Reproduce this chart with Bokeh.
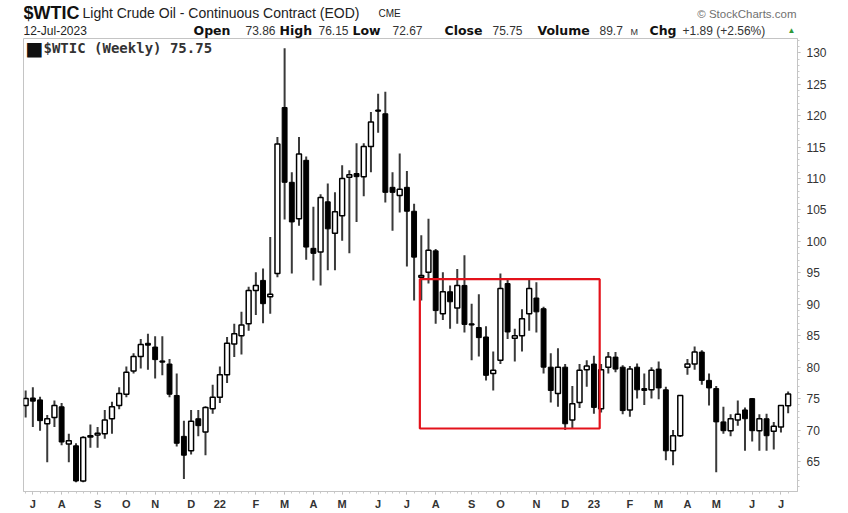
import pandas as pd
from bokeh.plotting import figure
from bokeh.layouts import column
from bokeh.models import (ColumnDataSource, Range1d, FixedTicker, SingleIntervalTicker,
                          BoxAnnotation, Label)
from bokeh.core.properties import value
from bokeh.embed import file_html
from bokeh.resources import INLINE

# ---------------- data (weekly OHLC, $WTIC, weeks starting 2021-06-28) ----------------
first_week = "2021-06-28"
opens = [73.9, 75.1, 74.8, 71.0, 72.0, 73.7, 67.8, 67.5, 61.9, 68.9,
         69.2, 69.4, 71.8, 73.9, 75.7, 79.4, 81.7, 83.8, 83.2, 81.0,
         80.5, 75.5, 69.0, 66.7, 71.8, 69.7, 73.4, 75.2, 78.8, 83.7,
         85.0, 86.9, 92.2, 93.8, 91.2, 94.9, 121.3, 109.4, 103.6, 112.9,
         98.9, 98.3, 106.3, 101.3, 104.1, 110.2, 110.8, 110.3, 115.1, 120.9,
         120.3, 108.6, 107.3, 108.6, 104.8, 94.3, 95.1, 98.5, 88.5, 92.0,
         89.4, 93.0, 86.9, 86.3, 84.8, 79.0, 81.1, 93.3, 84.6, 85.0,
         88.5, 91.0, 89.3, 80.0, 75.8, 80.0, 71.6, 74.4, 79.6, 80.5,
         73.4, 80.0, 81.6, 80.0, 73.2, 80.0, 76.6, 76.4, 79.7, 76.4,
         66.7, 69.1, 80.0, 80.5, 82.4, 77.9, 76.6, 71.3, 69.9, 71.6,
         73.2, 75.0, 69.9, 71.8, 69.8, 70.5, 73.86]
highs = [76.3, 76.8, 75.3, 72.4, 74.7, 74.3, 69.4, 67.9, 69.0, 70.9,
         70.5, 73.2, 74.5, 76.8, 80.1, 82.2, 84.5, 85.3, 84.9, 84.9,
         81.3, 79.0, 71.5, 73.2, 73.2, 73.8, 77.2, 80.1, 84.8, 86.9,
         88.8, 92.8, 95.1, 95.7, 100.7, 116.6, 130.7, 111.0, 116.6, 113.5,
         105.5, 107.5, 109.2, 107.8, 112.1, 111.3, 115.6, 115.6, 120.6, 123.5,
         123.8, 111.0, 114.0, 111.2, 106.0, 101.0, 103.6, 98.8, 95.1, 93.0,
         95.6, 97.8, 90.1, 91.6, 86.5, 82.5, 94.9, 93.9, 86.1, 89.2,
         93.9, 93.5, 89.6, 82.2, 83.0, 80.5, 77.0, 80.5, 81.1, 81.8,
         80.5, 82.4, 82.4, 80.3, 80.2, 80.6, 79.0, 80.0, 80.9, 76.9,
         70.0, 75.5, 81.3, 83.3, 82.7, 79.0, 77.0, 73.7, 72.5, 74.7,
         73.6, 75.1, 72.5, 72.6, 71.3, 73.9, 76.15]
lows = [72.0, 70.5, 69.9, 64.9, 70.5, 67.6, 64.9, 61.7, 61.7, 67.2,
        67.2, 68.6, 69.4, 73.3, 75.2, 79.0, 79.8, 79.6, 78.2, 78.7,
        75.2, 67.4, 62.2, 66.1, 69.0, 66.0, 72.6, 74.3, 77.5, 81.6,
        82.0, 85.8, 88.3, 87.0, 88.5, 94.3, 103.5, 94.9, 102.5, 97.1,
        93.8, 93.0, 95.4, 95.4, 100.1, 98.1, 103.1, 107.2, 111.0, 117.3,
        106.2, 101.7, 104.6, 96.0, 90.6, 90.6, 93.3, 86.9, 87.5, 86.1,
        86.9, 85.5, 81.1, 81.7, 77.9, 76.3, 80.5, 84.5, 80.9, 82.5,
        85.8, 85.5, 79.0, 74.4, 73.7, 70.0, 70.2, 73.5, 76.9, 72.6,
        72.8, 79.0, 79.2, 72.5, 72.1, 75.0, 74.0, 75.0, 74.9, 65.2,
        64.4, 68.9, 78.8, 79.6, 77.2, 73.9, 63.3, 69.4, 69.0, 70.7,
        66.7, 68.2, 66.7, 66.7, 66.9, 69.6, 72.67]
closes = [75.0, 74.6, 71.5, 71.8, 73.9, 68.1, 68.3, 61.9, 68.8, 69.1,
          69.5, 71.6, 73.7, 75.8, 79.2, 81.7, 83.6, 83.5, 81.2, 80.8,
          75.7, 67.9, 66.0, 71.4, 70.7, 73.6, 75.2, 78.8, 83.8, 85.3,
          86.7, 92.2, 93.0, 90.1, 91.6, 115.5, 109.4, 103.1, 113.9, 99.1,
          98.1, 107.0, 102.0, 104.7, 110.0, 110.6, 110.3, 115.1, 119.0, 120.7,
          107.8, 107.8, 108.3, 104.8, 97.5, 94.6, 98.6, 89.0, 92.0, 90.4,
          93.0, 86.8, 86.7, 84.7, 78.7, 79.5, 92.5, 85.6, 85.0, 87.7,
          92.5, 88.8, 80.0, 76.3, 80.0, 71.0, 74.2, 79.5, 80.2, 73.6,
          79.6, 81.6, 79.7, 73.1, 79.7, 76.4, 76.3, 79.5, 76.7, 66.7,
          69.1, 75.5, 80.5, 82.4, 77.9, 76.7, 71.3, 69.9, 71.8, 72.5,
          71.8, 69.9, 71.8, 69.1, 70.6, 73.9, 75.75]

tick_labels = ["J", "A", "S", "O", "N", "D", "22", "F", "M", "A", "M", "J", "J",
               "A", "S", "O", "N", "D", "23", "F", "M", "A", "M", "J", "J"]

# highlighted region (week index / price)
box_first_week = 54.8
box_last_week = 79.8
box_low = 70.25
box_high = 94.0

header_symbol = "$WTIC"
header_name = "Light Crude Oil - Continuous Contract (EOD)"
header_exchange = "CME"
header_date = "12-Jul-2023"
field_names = ["Open", "High", "Low", "Close", "Volume", "Chg"]
field_values = ["73.86", "76.15", "72.67", "75.75", "89.7", "+1.89 (+2.56%)"]
volume_unit = "M"
inner_label = "$WTIC (Weekly) 75.75"
credit = "\u00a9 StockCharts.com"

# ---------------- layout constants ----------------
W = 848
HEAD_H = 38
LEFT = 23
RIGHT_BORDER = 51
FRAME_RIGHT = W - RIGHT_BORDER

# ---------------- header strip (pixel coordinates) ----------------
head = figure(width=W, height=HEAD_H, x_range=Range1d(LEFT, FRAME_RIGHT),
              y_range=Range1d(HEAD_H, 0), x_axis_type=None, y_axis_type=None,
              output_backend="svg", toolbar_location=None,
              min_border_left=LEFT, min_border_right=RIGHT_BORDER,
              min_border_top=0, min_border_bottom=0, outline_line_color=None)
head.xgrid.visible = False
head.ygrid.visible = False


def htext(xs, ys, texts, size, style="normal", color="#222222", font="Liberation Sans",
          align="left"):
    head.text(x=xs, y=ys, text=texts, text_font=value(font), text_font_size=value(size),
              text_font_style=style, text_color=color, text_align=align,
              text_baseline="middle")


htext([23], [12], [header_symbol], "18px", "bold", "#111111")
htext([82], [12], [header_name], "14px", "normal", "#222222")
htext([378], [13], [header_exchange], "10px", "normal", "#222222")
htext([796], [13], [credit], "11.5px", "normal", "#707070", align="right")
htext([23], [30], [header_date], "12px", "normal", "#222222")
htext([193, 279, 352, 444, 537, 649], [30] * 6, field_names, "12.5px", "bold", "#111111",
      font="DejaVu Sans")
htext([245, 318, 392, 492, 599, 682], [30] * 6, field_values, "12px", "normal", "#333333")
htext([630], [31], [volume_unit], "9px", "normal", "#333333")
htext([787], [30], ["\u25b2"], "8px", "normal", "#2e9a3a")

# ---------------- main chart ----------------
dates = pd.date_range(first_week, periods=len(closes), freq="7D")
df = pd.DataFrame({"i": range(len(closes)), "open": opens, "high": highs,
                   "low": lows, "close": closes})
up = df[df.close >= df.open]
down = df[df.close < df.open]
month_ticks = [i for i in range(1, len(dates)) if dates[i].month != dates[i - 1].month]

p = figure(width=W, height=512 - HEAD_H, x_range=Range1d(-0.3, 107.3),
           y_range=Range1d(60.23, 132.27), y_axis_location="right",
           output_backend="svg", toolbar_location=None,
           min_border_left=LEFT, min_border_right=RIGHT_BORDER, min_border_top=0,
           min_border_bottom=21)
p.xgrid.visible = False
p.ygrid.visible = False
p.outline_line_color = "#c4c4c4"
p.outline_line_width = 1

p.segment(x0="i", y0="high", x1="i", y1="low", source=ColumnDataSource(df),
          line_color="#3a3a3a", line_width=2)
p.vbar(x="i", width=0.68, top="open", bottom="close", source=ColumnDataSource(down),
       fill_color="black", line_color="black", line_width=1)
p.vbar(x="i", width=0.68, top="close", bottom="open", source=ColumnDataSource(up),
       fill_color="white", line_color="black", line_width=1.5)

p.add_layout(BoxAnnotation(left=box_first_week, right=box_last_week,
                           bottom=box_low, top=box_high, fill_alpha=0,
                           line_color="#e3121b", line_alpha=1.0, line_width=2.2))

xa = p.xaxis[0]
xa.ticker = FixedTicker(ticks=month_ticks, minor_ticks=list(range(len(closes))))
xa.major_label_overrides = {t: lab for t, lab in zip(month_ticks, tick_labels)}
ya = p.yaxis[0]
ya.ticker = SingleIntervalTicker(interval=5, num_minor_ticks=5)
for ax in (xa, ya):
    ax.axis_line_color = "#c4c4c4"
    ax.major_tick_line_color = "#b0b0b0"
    ax.minor_tick_line_color = "#c8c8c8"
    ax.major_tick_in = 0
    ax.major_tick_out = 3
    ax.minor_tick_in = 0
    ax.minor_tick_out = 2
    ax.major_label_text_color = "#333333"
    ax.major_label_text_font = "Liberation Sans"
xa.major_label_text_font_size = "11px"
xa.major_label_text_font_style = "bold"
xa.major_label_standoff = 3
ya.major_label_text_font_size = "12px"
ya.major_label_standoff = 6

p.add_layout(Label(x=25, y=9, x_units="canvas", y_units="canvas", text="\u25a0",
                   text_font="DejaVu Sans", text_font_size="19px", text_color="#111111",
                   text_baseline="middle"))
p.add_layout(Label(x=43, y=9, x_units="canvas", y_units="canvas", text=inner_label,
                   text_font="DejaVu Sans Mono", text_font_size="14px",
                   text_font_style="bold", text_color="#333333",
                   text_baseline="middle"))

open("out.html", "w").write(file_html(column(head, p, spacing=0), INLINE))
